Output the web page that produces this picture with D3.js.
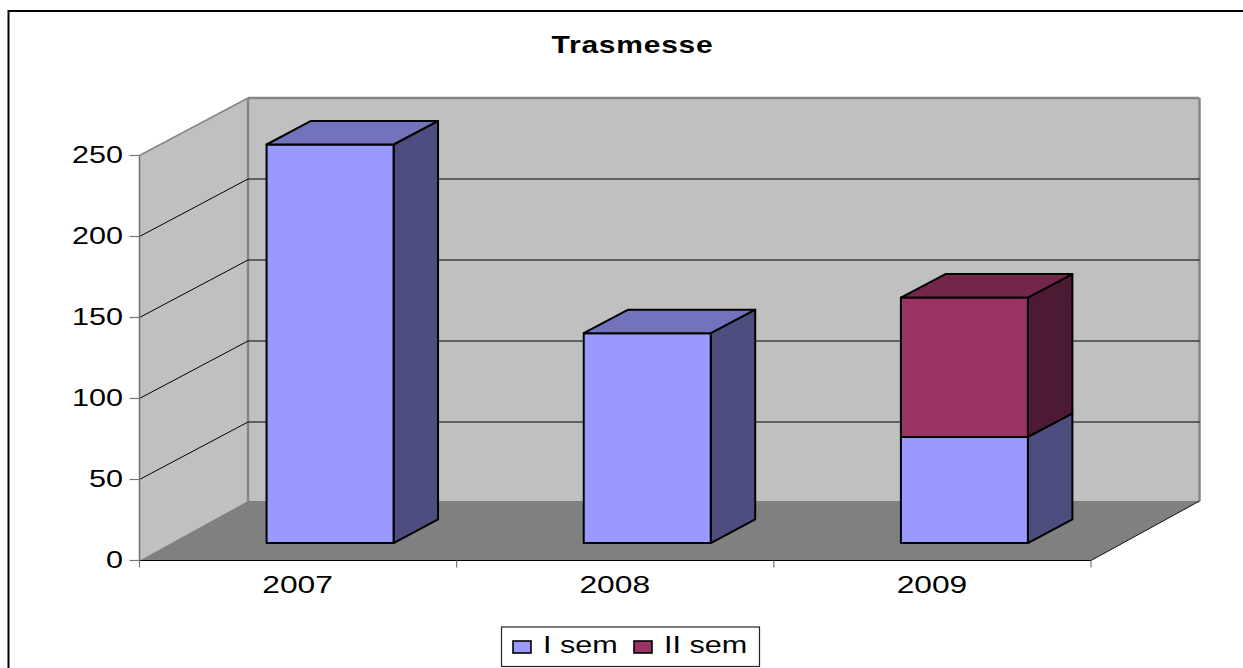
<!DOCTYPE html>
<html><head><meta charset="utf-8">
<script src="https://cdn.jsdelivr.net/npm/d3@7"></script>
<style>html,body{margin:0;padding:0;background:#fff;overflow:hidden}svg{display:block}text{font-family:"Liberation Sans",Arial,sans-serif;fill:#000}</style>
</head><body><svg id="c" width="1243" height="668"></svg>
<script>
const title = "Trasmesse";
const categories = ["2007", "2008", "2009"];
const seriesNames = ["I sem", "II sem"];
const semI = [246, 129.5, 65.5];
const semII = [0, 0, 86];
const yTicks = [0, 50, 100, 150, 200, 250];

const colors = {"I sem": {front:"#9999ff", top:"#7373bd", side:"#4d4d7f"},
                "II sem": {front:"#993366", top:"#732649", side:"#4d1a33"}};

const svg = d3.select("#c");
const x = d3.scaleBand().domain(categories).range([139.5, 1091]);
const y = d3.scaleLinear().domain([0, 250]).range([560.5, 155.5]);
const depthX = 108.5, depthY = -57.5;
const P = (px, v, d) => [px + depthX * d, y(v) + depthY * d];
const poly = pts => "M" + pts.map(p => p.join(",")).join("L") + "Z";
const line = d3.line();
const axisFont = 23;

// frame: only the top and left edges are inside the picture
svg.append("path").attr("d", line([[8.5,668],[8.5,11],[1243,11]]))
  .attr("fill", "none").attr("stroke", "#000").attr("stroke-width", 2);

const [x0, x1] = x.range();
const wallStroke = "#868686";
const floorV = 1.2;
// back wall
svg.append("path").attr("d", poly([P(x0,0,1),P(x1,0,1),P(x1,250,1),P(x0,250,1)]))
  .attr("fill", "#c0c0c0");
// side wall
svg.append("path").attr("d", poly([P(x0,0,0),P(x0,0,1),P(x0,250,1),P(x0,250,0)]))
  .attr("fill", "#c0c0c0");
svg.append("path").attr("d", line([P(x0,250,0),P(x0,250,1)])).attr("fill","none")
  .attr("stroke", wallStroke).attr("stroke-width", 1.5);
// floor
svg.append("path").attr("d", poly([P(x0,0,0),P(x1,0,0),P(x1,floorV,1),P(x0,floorV,1)])).attr("fill", "#808080");
// wall edges
svg.append("path").attr("d", line([P(x0,floorV,1),P(x0,250,1)])).attr("stroke", wallStroke).attr("stroke-width", 2.5);
svg.append("path").attr("d", line([P(x1,floorV,1),P(x1,250,1)])).attr("stroke", wallStroke).attr("stroke-width", 2.5);
svg.append("path").attr("d", line([P(x0,250,1),P(x1,250,1)])).attr("stroke", wallStroke).attr("stroke-width", 2.5);

// gridlines
yTicks.filter(t => t > 0 && t < 250).forEach(t => {
  svg.append("path").attr("d", line([P(x0,t,0),P(x0,t,1),P(x1,t,1)]))
    .attr("fill","none").attr("stroke","#000").attr("stroke-width",1);
});

// axis lines
svg.append("path").attr("d", line([P(x0,0,0),P(x1,0,0)])).attr("stroke","#000").attr("stroke-width",1.2);
svg.append("path").attr("d", line([P(x1,0,0),P(x1,floorV,1)])).attr("stroke","#111").attr("stroke-width",1);
svg.append("path").attr("d", line([P(x0,0,0),P(x0,250,0)])).attr("stroke","#707070").attr("stroke-width",1.5);

// y ticks + labels
yTicks.forEach(t => {
  svg.append("line").attr("x1", x0-10).attr("x2", x0).attr("y1", y(t)).attr("y2", y(t))
    .attr("stroke", "#777").attr("stroke-width", 1.2);
  svg.append("text").attr("transform", `translate(${x0-16.5},${y(t)+7}) scale(1.33,1)`)
    .attr("text-anchor","end").attr("font-size", axisFont).text(t);
});
// x ticks + labels
[...categories.map(c => x(c)), x1].forEach(px => {
  svg.append("line").attr("x1", px).attr("x2", px).attr("y1", y(0)).attr("y2", y(0)+7)
    .attr("stroke", "#777").attr("stroke-width", 1.2);
});
categories.forEach(c => {
  svg.append("text").attr("transform", `translate(${x(c)+x.bandwidth()/2-0.5},${y(0)+32.5}) scale(1.38,1)`)
    .attr("text-anchor","middle").attr("font-size", axisFont).text(c);
});

// bars
const dStart = 0.304, dEnd = 0.714, barW = 127;
const stacked = categories.map((c, i) => {
  let base = 0; const segs = [];
  [[seriesNames[0], semI[i]], [seriesNames[1], semII[i]]].forEach(([n, v]) => {
    if (v > 0) { segs.push({n, v0: base, v1: base + v}); base += v; }
  });
  return {c, segs};
});
const edge = {stroke:"#000", "stroke-width":2, "stroke-linejoin":"round"};
const apply = (s) => { Object.entries(edge).forEach(([k,v]) => s.attr(k,v)); return s; };
stacked.forEach(b => {
  const l = x(b.c) + x.bandwidth()/2 - barW/2 - 1, r = l + barW;
  b.segs.forEach((s, i) => {
    const col = colors[s.n];
    apply(svg.append("path").attr("d", poly([P(r,s.v0,dStart),P(r,s.v0,dEnd),P(r,s.v1,dEnd),P(r,s.v1,dStart)])).attr("fill", col.side));
    apply(svg.append("path").attr("d", poly([P(l,s.v0,dStart),P(r,s.v0,dStart),P(r,s.v1,dStart),P(l,s.v1,dStart)])).attr("fill", col.front));
    if (i === b.segs.length - 1)
      apply(svg.append("path").attr("d", poly([P(l,s.v1,dStart),P(r,s.v1,dStart),P(r,s.v1,dEnd),P(l,s.v1,dEnd)])).attr("fill", col.top));
  });
});

// title
svg.append("text").attr("transform", `translate(632.5,52.5) scale(1.25,1)`).attr("text-anchor","middle")
  .attr("font-size", 24).attr("font-weight","bold").attr("letter-spacing",0.6).text(title);

// legend
svg.append("rect").attr("x",501.5).attr("y",627).attr("width",258).attr("height",39.5)
  .attr("fill","#fff").attr("stroke","#222").attr("stroke-width",1.2);
const legendX = [513, 634];
seriesNames.forEach((n,i) => {
  svg.append("rect").attr("x",legendX[i]).attr("y",641).attr("width",18).attr("height",12)
    .attr("fill",colors[n].front).attr("stroke","#000").attr("stroke-width",1.6);
  svg.append("text").attr("transform",`translate(${legendX[i]+30},653) scale(1.33,1)`)
    .attr("font-size",23).text(n);
});
</script></body></html>
